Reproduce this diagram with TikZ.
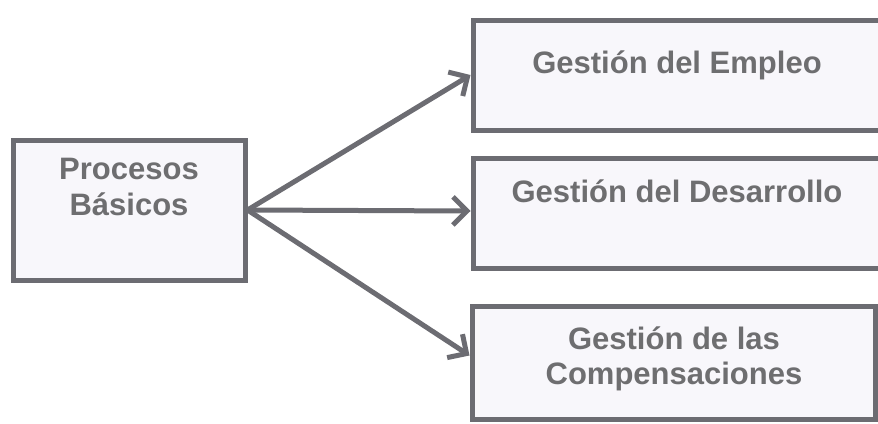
\documentclass[tikz,border=0pt]{standalone}
\usepackage{fontspec}
\setmainfont{Liberation Sans}
\usetikzlibrary{arrows.meta, calc}
\definecolor{borde}{RGB}{108,108,114}
\definecolor{tinta}{RGB}{110,110,112}
\definecolor{relleno}{RGB}{248,247,251}

\begin{document}
\begin{tikzpicture}[x=0.5pt, y=-0.5pt,
  caja/.style={draw=borde, fill=relleno, line width=2.5pt, minimum width=#1, inner sep=0pt},
  rotulo/.style={text=tinta, font=\bfseries\fontsize{15.5}{18}\selectfont, align=center},
  flecha/.style={draw=borde, line width=2.5pt, -{Straight Barb[length=7pt, width=14pt]}}]
\useasboundingbox (0,0) rectangle (878,423);
\path
(129,210) node[caja=116pt, minimum height=70pt] (proc) {};
\path
(681.5,75) node[caja=208.5pt, minimum height=55pt] (empleo) {};
\path
(681.5,213) node[caja=208.5pt, minimum height=55pt] (desarrollo) {};
\path
(673.5,362.5) node[caja=201.5pt, minimum height=56.5pt] (compens) {};
\path
(129,187) node[rotulo] (tProc) {Procesos\\Básicos};
\path
(677,65) node[rotulo] (tEmpleo) {Gestión del Empleo};
\path
(677,191) node[rotulo] (tDesarrollo) {Gestión del Desarrollo};
\path
(674,359) node[rotulo, font=\bfseries\fontsize{15.5}{17.5}\selectfont] (tCompens) {Gestión de las\\Compensaciones};
\draw[flecha] (proc.east) -- (empleo.west);
\draw[flecha] (proc.east) -- ([yshift=1pt]desarrollo.west);
\draw[flecha] (proc.east) -- ([yshift=3.5pt]compens.west);
\end{tikzpicture}
\end{document}
